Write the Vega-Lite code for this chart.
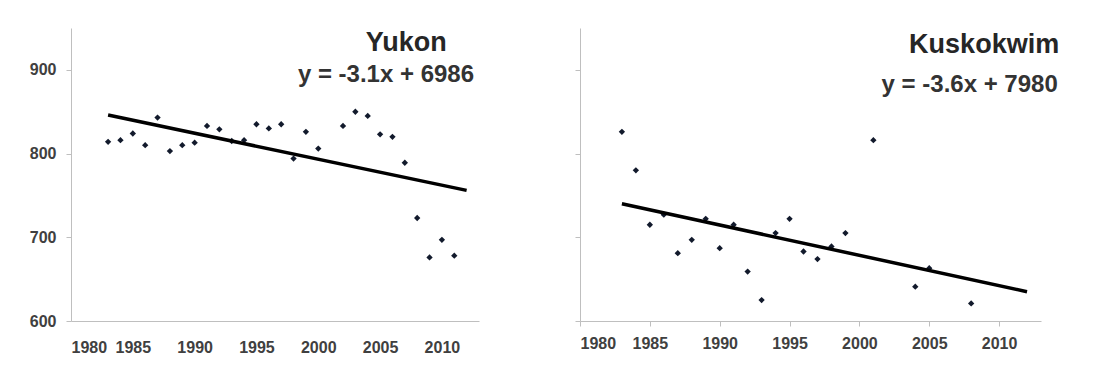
{
  "$schema": "https://vega.github.io/schema/vega-lite/v6.json",
  "padding": {"left": 29, "top": 28, "right": 5, "bottom": 5},
  "background": "white",
  "config": {
    "view": {"stroke": null},
    "axis": {"grid": false, "domainColor": "#bfbfbf", "tickColor": "#bfbfbf", "labelFont": "Liberation Sans", "labelFontSize": 16, "labelFontWeight": "bold", "labelColor": "#404040", "title": null, "tickSize": 5},
    "concat": {"spacing": 95}
  },
  "datasets": {
    "yukon": [
      {"year": 1983, "value": 814}, {"year": 1984, "value": 816}, {"year": 1985, "value": 824},
      {"year": 1986, "value": 810}, {"year": 1987, "value": 843}, {"year": 1988, "value": 803},
      {"year": 1989, "value": 810}, {"year": 1990, "value": 813}, {"year": 1991, "value": 833},
      {"year": 1992, "value": 829}, {"year": 1993, "value": 815}, {"year": 1994, "value": 816},
      {"year": 1995, "value": 835}, {"year": 1996, "value": 830}, {"year": 1997, "value": 835},
      {"year": 1998, "value": 794}, {"year": 1999, "value": 826}, {"year": 2000, "value": 806},
      {"year": 2002, "value": 833}, {"year": 2003, "value": 850}, {"year": 2004, "value": 845},
      {"year": 2005, "value": 823}, {"year": 2006, "value": 820}, {"year": 2007, "value": 789},
      {"year": 2008, "value": 723}, {"year": 2009, "value": 676}, {"year": 2010, "value": 697},
      {"year": 2011, "value": 678}
    ],
    "yukon_trend": [{"year": 1983, "value": 846}, {"year": 2012, "value": 756}],
    "kusko": [
      {"year": 1983, "value": 926}, {"year": 1984, "value": 880}, {"year": 1985, "value": 815},
      {"year": 1986, "value": 827}, {"year": 1987, "value": 781}, {"year": 1988, "value": 797},
      {"year": 1989, "value": 822}, {"year": 1990, "value": 787}, {"year": 1991, "value": 815},
      {"year": 1992, "value": 759}, {"year": 1993, "value": 725}, {"year": 1994, "value": 805},
      {"year": 1995, "value": 822}, {"year": 1996, "value": 783}, {"year": 1997, "value": 774},
      {"year": 1998, "value": 789}, {"year": 1999, "value": 805}, {"year": 2001, "value": 916},
      {"year": 2004, "value": 741}, {"year": 2005, "value": 763}, {"year": 2008, "value": 721}
    ],
    "kusko_trend": [{"year": 1983, "value": 840}, {"year": 2012, "value": 735}]
  },
  "hconcat": [
    {
      "width": 408,
      "height": 293,
      "layer": [
        {
          "data": {"name": "yukon"},
          "mark": {"type": "point", "shape": "diamond", "filled": true, "size": 40, "color": "#121a2c", "opacity": 1},
          "encoding": {
            "x": {"field": "year", "type": "quantitative", "scale": {"domain": [1980, 2013], "nice": false, "zero": false},
                  "axis": {"values": [1980, 1985, 1990, 1995, 2000, 2005, 2010], "format": "d", "labelPadding": 18, "ticks": false}},
            "y": {"field": "value", "type": "quantitative", "scale": {"domain": [600, 950], "nice": false, "zero": false},
                  "axis": {"values": [600, 700, 800, 900], "labelPadding": 10}}
          }
        },
        {
          "data": {"name": "yukon_trend"},
          "mark": {"type": "line", "color": "#000000", "strokeWidth": 3.5},
          "encoding": {
            "x": {"field": "year", "type": "quantitative"},
            "y": {"field": "value", "type": "quantitative"}
          }
        },
        {
          "data": {"values": [{}]},
          "mark": {"type": "text", "align": "right", "baseline": "alphabetic", "font": "Liberation Sans", "fontSize": 27, "fontWeight": "bold", "color": "#262626"},
          "encoding": {"x": {"datum": 2010.4}, "y": {"datum": 922.5}, "text": {"value": "Yukon"}}
        },
        {
          "data": {"values": [{}]},
          "mark": {"type": "text", "align": "right", "baseline": "alphabetic", "font": "Liberation Sans", "fontSize": 24, "fontWeight": "bold", "color": "#333333"},
          "encoding": {"x": {"datum": 2012.6}, "y": {"datum": 885.5}, "text": {"value": "y = -3.1x + 6986"}}
        }
      ]
    },
    {
      "width": 461,
      "height": 293,
      "layer": [
        {
          "data": {"name": "kusko"},
          "mark": {"type": "point", "shape": "diamond", "filled": true, "size": 40, "color": "#121a2c", "opacity": 1},
          "encoding": {
            "x": {"field": "year", "type": "quantitative", "scale": {"domain": [1980, 2013], "nice": false, "zero": false},
                  "axis": {"values": [1980, 1985, 1990, 1995, 2000, 2005, 2010], "format": "d", "labelPadding": 9}},
            "y": {"field": "value", "type": "quantitative", "scale": {"domain": [700, 1050], "nice": false, "zero": false},
                  "axis": {"values": [700, 800, 900, 1000], "labels": false}}
          }
        },
        {
          "data": {"name": "kusko_trend"},
          "mark": {"type": "line", "color": "#000000", "strokeWidth": 3.5},
          "encoding": {
            "x": {"field": "year", "type": "quantitative"},
            "y": {"field": "value", "type": "quantitative"}
          }
        },
        {
          "data": {"values": [{}]},
          "mark": {"type": "text", "align": "right", "baseline": "alphabetic", "font": "Liberation Sans", "fontSize": 27, "fontWeight": "bold", "color": "#262626"},
          "encoding": {"x": {"datum": 2014.3}, "y": {"datum": 1020}, "text": {"value": "Kuskokwim"}}
        },
        {
          "data": {"values": [{}]},
          "mark": {"type": "text", "align": "right", "baseline": "alphabetic", "font": "Liberation Sans", "fontSize": 24, "fontWeight": "bold", "color": "#333333"},
          "encoding": {"x": {"datum": 2014.2}, "y": {"datum": 973.5}, "text": {"value": "y = -3.6x + 7980"}}
        }
      ]
    }
  ]
}
